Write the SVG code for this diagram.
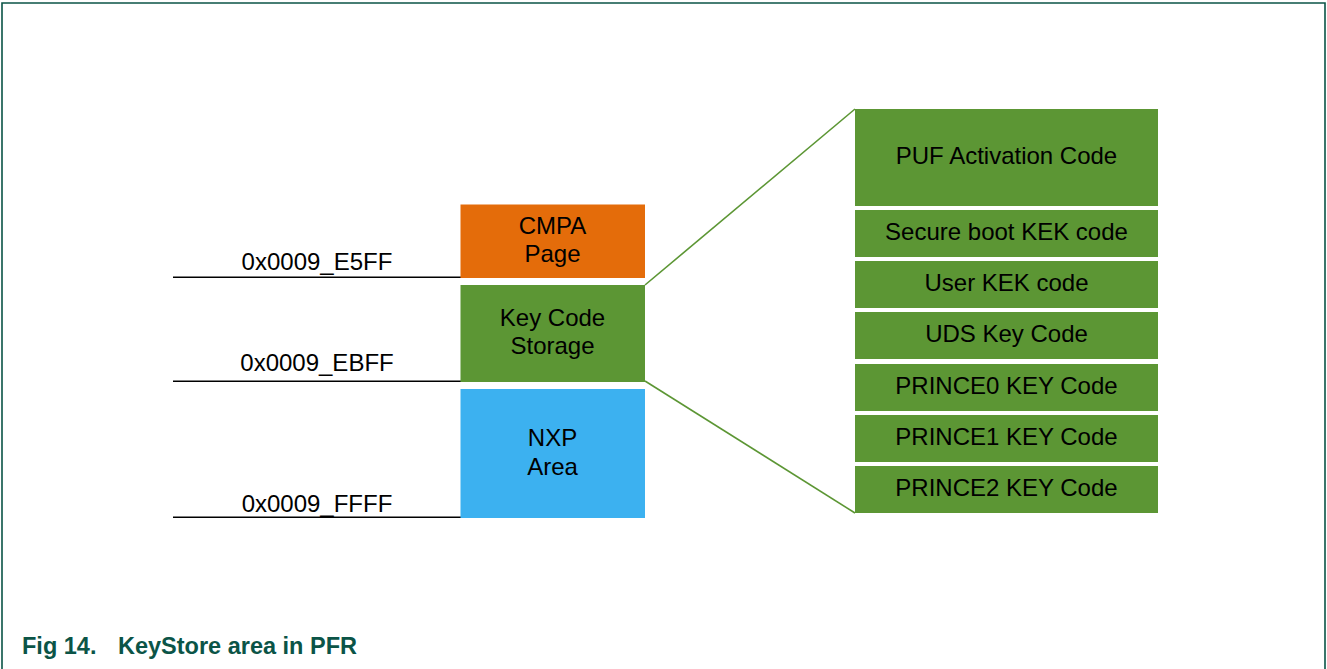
<svg xmlns="http://www.w3.org/2000/svg" width="1327" height="669" viewBox="0 0 1327 669">
<style>
text{font-family:"Liberation Sans",Arial,sans-serif;fill:#000}
.lbl{font-size:24px;text-anchor:middle}
.box{font-size:24px;text-anchor:middle}
.addr{stroke:#000;stroke-width:1.6;fill:none}
.conn{stroke:#5C9634;stroke-width:1.6;fill:none}
.g{fill:#5C9634}
.cap{font-size:23.5px;font-weight:bold;fill:#0B5447}
</style>
<rect width="1327" height="669" fill="#fff"/>
<path d="M2,669 V3 H1325 V669" fill="none" stroke="#0B5447" stroke-width="1.6"/>
<g id="connectors">
<line class="conn" x1="645" y1="285" x2="855" y2="109"/>
<line class="conn" x1="645" y1="381" x2="855" y2="513"/>
</g>
<g id="addr-e5ff">
<line class="addr" x1="173" y1="277.3" x2="462" y2="277.3"/>
<text class="lbl" x="317" y="270">0x0009_E5FF</text>
</g>
<g id="addr-ebff">
<line class="addr" x1="173" y1="381.3" x2="462" y2="381.3"/>
<text class="lbl" x="317" y="370.5">0x0009_EBFF</text>
</g>
<g id="addr-ffff">
<line class="addr" x1="173" y1="517.3" x2="462" y2="517.3"/>
<text class="lbl" x="317" y="511.5">0x0009_FFFF</text>
</g>
<g id="cmpa">
<rect x="460.5" y="204.5" width="184.5" height="73.5" fill="#E46C0A"/>
<text class="box" x="552.5" y="234">CMPA</text>
<text class="box" x="552.5" y="262">Page</text>
</g>
<g id="keycode">
<rect class="g" x="460.5" y="285" width="184.5" height="97"/>
<text class="box" x="552.5" y="326">Key Code</text>
<text class="box" x="552.5" y="354">Storage</text>
</g>
<g id="nxp">
<rect x="460.5" y="389" width="184.5" height="129" fill="#3CB1F0"/>
<text class="box" x="552.5" y="446">NXP</text>
<text class="box" x="552.5" y="475">Area</text>
</g>
<g id="puf">
<rect class="g" x="855" y="109" width="303" height="97"/>
<text class="box" x="1006.5" y="164">PUF Activation Code</text>
</g>
<g id="sbkek">
<rect class="g" x="855" y="210" width="303" height="47"/>
<text class="box" x="1006.5" y="239.5">Secure boot KEK code</text>
</g>
<g id="userkek">
<rect class="g" x="855" y="261" width="303" height="47"/>
<text class="box" x="1006.5" y="290.5">User KEK code</text>
</g>
<g id="uds">
<rect class="g" x="855" y="312" width="303" height="47"/>
<text class="box" x="1006.5" y="341.5">UDS Key Code</text>
</g>
<g id="prince0">
<rect class="g" x="855" y="364" width="303" height="47"/>
<text class="box" x="1006.5" y="393.5">PRINCE0 KEY Code</text>
</g>
<g id="prince1">
<rect class="g" x="855" y="415" width="303" height="47"/>
<text class="box" x="1006.5" y="444.5">PRINCE1 KEY Code</text>
</g>
<g id="prince2">
<rect class="g" x="855" y="466" width="303" height="47"/>
<text class="box" x="1006.5" y="495.5">PRINCE2 KEY Code</text>
</g>
<g id="caption">
<text class="cap" x="22" y="653.5">Fig 14.</text>
<text class="cap" x="118" y="653.5">KeyStore area in PFR</text>
</g>
</svg>
